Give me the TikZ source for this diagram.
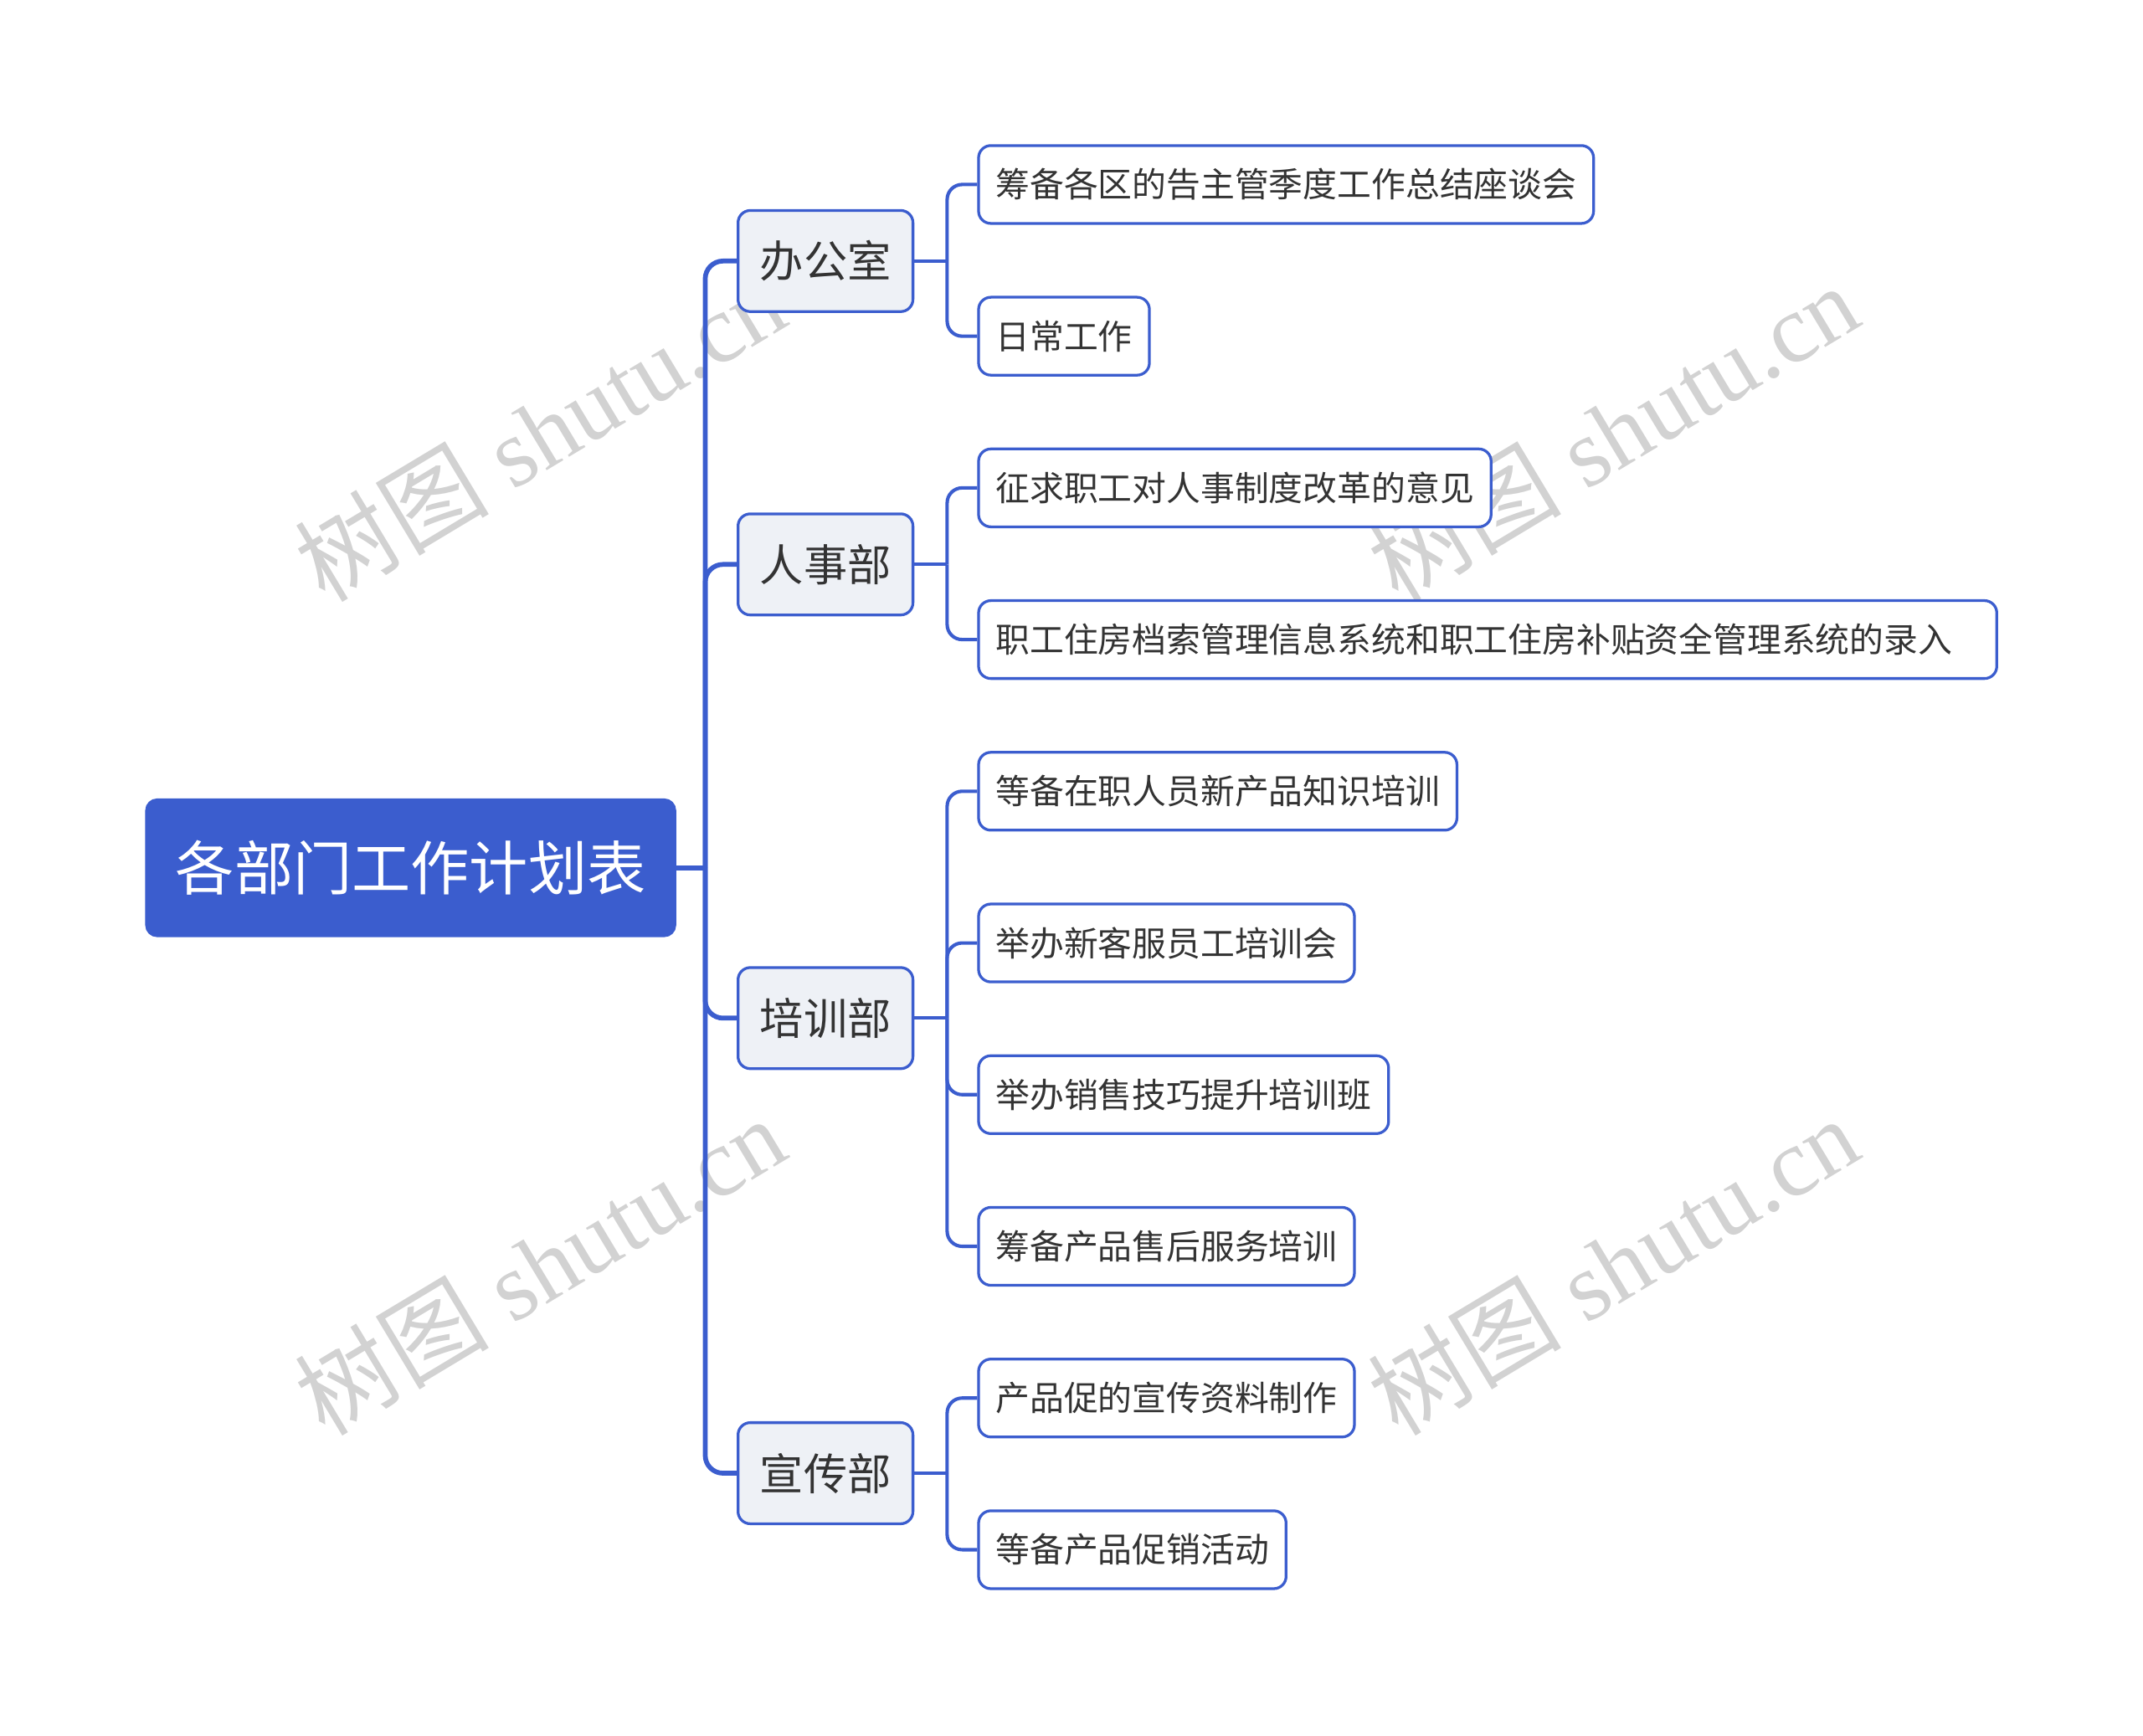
\documentclass[tikz,border=0pt]{standalone}
\usepackage{fontspec}
\setmainfont{Noto Sans CJK SC}
\newfontfamily\wmfont{Liberation Serif}
\newfontfamily\cjk{Noto Sans CJK SC}
\usetikzlibrary{calc}
\definecolor{lineblue}{HTML}{3B5DCE}
\definecolor{deptfill}{HTML}{EEF1F6}
\definecolor{inktext}{HTML}{333333}
\definecolor{wmgray}{HTML}{D2D2D2}
\tikzset{
	rootbox/.style={draw=lineblue, fill=lineblue, line width=1.5pt, rounded corners=8pt,
		minimum width=387pt, minimum height=100pt, inner sep=0pt, text=white,
		font=\fontsize{43}{50}\selectfont},
	deptbox/.style={draw=lineblue, fill=deptfill, line width=2pt, rounded corners=9pt,
		minimum width=128pt, minimum height=74pt, inner sep=0pt, text=inktext,
		font=\fontsize{32}{38}\selectfont},
	taskbox/.style={draw=lineblue, fill=white, line width=2pt, rounded corners=9pt,
		anchor=west, minimum height=57pt, inner xsep=12.5pt, inner ysep=0pt, text=inktext,
		font=\fontsize{25}{30}\selectfont},
	trunk/.style={draw=lineblue, line width=3.5pt, rounded corners=13pt},
	twig/.style={draw=lineblue, line width=2.5pt, rounded corners=11pt},
	wmark/.style={text=wmgray, rotate=31, font=\fontsize{71}{78}\wmfont},
}
\begin{document}
\begin{tikzpicture}[x=1pt, y=-1pt]
	%%%%% START %%%%%
	\useasboundingbox (0, 0) rectangle (1568, 1270);
	
	% watermarks
	\node[wmark] (wm1) at (395, 316) {{\cjk 树图} shutu.cn};
	\node[wmark] (wm2) at (1180, 316) {{\cjk 树图} shutu.cn};
	\node[wmark] (wm3) at (395, 926) {{\cjk 树图} shutu.cn};
	\node[wmark] (wm4) at (1180, 926) {{\cjk 树图} shutu.cn};
	
	\node[rootbox] (root) at (300.5, 635) {各部门工作计划表};
	
	\node[deptbox] (ban) at (604, 191) {办公室};
	\node[deptbox] (ren) at (604, 413) {人事部};
	\node[deptbox] (pei) at (604, 745) {培训部};
	\node[deptbox] (xuan) at (604, 1078) {宣传部};
	
	\node[taskbox] (ban1) at (715, 135) {筹备各区的告主管季度工作总结座谈会};
	\node[taskbox] (ban2) at (715, 246) {日常工作};
	\node[taskbox] (ren1) at (715, 357) {征求职工对人事制度改革的意见};
	\node[taskbox, text width=720pt, align=left] (ren2) at (715, 468) {职工住房档索管理信息系统和职工住房补贴资全管理系统的录入};
	\node[taskbox] (pei1) at (715, 579) {等备在职人员新产品知识培训};
	\node[taskbox] (pei2) at (715, 690) {举办新客服员工培训会};
	\node[taskbox] (pei3) at (715, 801) {举办销售技巧提升培训班};
	\node[taskbox] (pei4) at (715, 912) {筹备产品售后服务培训};
	\node[taskbox] (xuan1) at (715, 1023) {产品促的宣传资料制作};
	\node[taskbox] (xuan2) at (715, 1134) {等备产品促销活动};
	
	% root to departments
	\coordinate (hub) at (516, 635);
	\draw[trunk] (root.east) -- (hub);
	\foreach \d in {ban, ren, pei, xuan}
		\draw[trunk] (hub) |- (\d.west);
	
	% departments to tasks
	\draw[twig] (ban.east) -- ++(24, 0) coordinate (banhub);
	\draw[twig] (banhub) |- (ban1.west);
	\draw[twig] (banhub) |- (ban2.west);
	
	\draw[twig] (ren.east) -- ++(24, 0) coordinate (renhub);
	\draw[twig] (renhub) |- (ren1.west);
	\draw[twig] (renhub) |- (ren2.west);
	
	\draw[twig] (pei.east) -- ++(24, 0) coordinate (peihub);
	\foreach \t in {pei1, pei2, pei3, pei4}
		\draw[twig] (peihub) |- (\t.west);
	
	\draw[twig] (xuan.east) -- ++(24, 0) coordinate (xuanhub);
	\draw[twig] (xuanhub) |- (xuan1.west);
	\draw[twig] (xuanhub) |- (xuan2.west);
	
	%%%%% END %%%%%
\end{tikzpicture}
\end{document}
